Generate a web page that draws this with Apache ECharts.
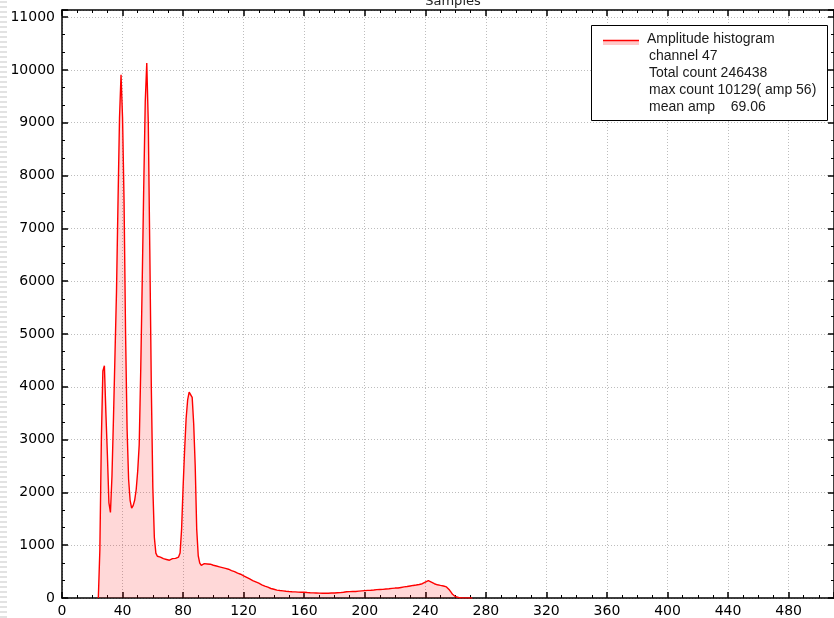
<!DOCTYPE html>
<html><head><meta charset="utf-8">
<script src="https://cdn.jsdelivr.net/npm/echarts@6/dist/echarts.min.js"></script>
<style>html,body{margin:0;padding:0;background:#fff}#c{width:834px;height:618px}</style>
</head><body><div id="c"></div>
<script>
const titleText = 'Samples';
const seriesName = 'Amplitude histogram';
const legendLines = ['channel 47', 'Total count 246438', 'max count 10129( amp 56)', 'mean amp\u00a0\u00a0\u00a0 69.06'];
const startChannel = 24;
const counts = [
  0, 900, 3000, 4300, 4400, 3500, 2700, 1800, 1620,            // 24-32
  2300, 3400, 4600, 5800, 7500, 9100, 9910, 9100, 7500, 5000, 3200, 2250, 1850, 1700, // 33-46
  1750, 1850, 2050, 2400, 2900, 4300, 6000, 7800, 9400, 10129, 9000, 6600, 4000, 2100, 1150, // 47-61
  850, 790, 770, 775, 750, 745, 760, 730, 700, 715, 740, 745, 740, 750, 760, 775, // 62-77
  850, 1300, 2100, 2800, 3400, 3750, 3900, 3927, 3800, 3300, 2500, 1300, 800, 660, // 78-91
  620, 640, 650, 635, 645, 630, 640, 625, 620, 615, 605, 610, 590, 585, 575, 580, // 92-107
  560, 550, 545, 530, 520, 505, 500, 480, 470, 455, 450, 430, 420, 405, 390, 375, // 108-123
  360, 345, 330, 320, 305, 295, 280, 265, 250, 240, 225, 215, 205, 190, 180, 172, // 124-139
  165, 160, 150, 148, 142, 140, 135, 130, 128, 125, 122, 120, 118, 120, 116, 115, // 140-155
  112, 114, 110, 108, 110, 106, 104, 103, 100, 102, 98, 97, 95, 96, 92, 94,       // 156-171
  90, 91, 89, 92, 90, 93, 94, 96, 95, 98, 100, 99, 102, 105, 108, 112,            // 172-187
  118, 115, 120, 117, 122, 125, 123, 128, 130, 132, 135, 138, 140, 142, 145, 143, // 188-203
  148, 150, 152, 155, 158, 160, 162, 165, 163, 168, 170, 172, 175, 178, 182, 185, // 204-219
  188, 192, 190, 196, 200, 205, 210, 212, 218, 222, 228, 232, 238, 242, 246, 250, // 220-235
  255, 262, 270, 285, 300, 318, 328, 318, 300, 285, 270, 258, 250, 245, 238, 235, // 236-251
  228, 222, 210, 185, 150, 110, 70, 40, 25, 15, 10, 7, 5, 4, 3, 2,                // 252-267
  2, 1, 1, 0                                                                      // 268-271
];
const xMin = 0, xMax = 510, xStep = 40;
const yMin = 0, yMax = 11135, yStep = 1000;

const data = counts.map((c, i) => [startChannel + i, c]);
const FONT = 'DejaVu Sans';
const LFONT = 'Liberation Sans';

function axis(kind, pos, labels, grid) {
  return {
    type: 'value', position: pos,
    min: kind === 'x' ? xMin : yMin, max: kind === 'x' ? xMax : yMax,
    interval: kind === 'x' ? xStep : yStep,
    axisLine: {show: true, onZero: false, lineStyle: {color: '#000', width: 1.5}},
    axisTick: {show: true, inside: true, length: 6, lineStyle: {color: '#000', width: 1.5}},
    minorTick: {show: true, splitNumber: kind === 'x' ? 4 : 3, length: 3, lineStyle: {color: '#000', width: 1}},
    axisLabel: {show: labels, color: '#000', fontFamily: FONT, fontSize: 14, margin: kind === 'x' ? 6 : 7,
      showMaxLabel: false, formatter: v => String(v)},
    splitLine: {show: grid, lineStyle: {color: '#bdbdbd', type: [1, 2], width: 1}},
    minorSplitLine: {show: false}
  };
}

const graphics = [];
for (let y = 1; y < 618; y += 5) {
  graphics.push({type: 'rect', z: 50, shape: {x: 0, y: y, width: 7, height: 2}, style: {fill: '#e2e2e2'}, silent: true});
}
graphics.push({type: 'rect', z: 100, shape: {x: 591.5, y: 25.5, width: 236, height: 95}, style: {fill: '#fff', stroke: '#000', lineWidth: 1}});
graphics.push({type: 'rect', z: 101, shape: {x: 603, y: 41, width: 36, height: 4}, style: {fill: '#ffc8c8'}});
graphics.push({type: 'line', z: 102, shape: {x1: 603, y1: 40.5, x2: 639, y2: 40.5}, style: {stroke: '#ff0000', lineWidth: 1.5}});
graphics.push({type: 'text', z: 102, x: 647, y: 39, style: {text: seriesName, fill: '#1a1a1a', font: '14px "' + LFONT + '"', verticalAlign: 'middle', align: 'left'}});
legendLines.forEach((t, i) => {
  graphics.push({type: 'text', z: 102, x: 649, y: 56 + i * 17.2, style: {text: t, fill: '#1a1a1a', font: '14px "' + LFONT + '"', verticalAlign: 'middle', align: 'left'}});
});

const chart = echarts.init(document.getElementById('c'), null, {renderer: 'canvas'});
chart.setOption({
  animation: false,
  backgroundColor: '#fff',
  title: {text: titleText, left: 448, top: -10, textAlign: 'center', textStyle: {fontFamily: FONT, fontSize: 13, fontWeight: 'normal', color: '#222'}},
  grid: {left: 62, right: 0, top: 10, bottom: 20, containLabel: false, outerBoundsMode: 'none'},
  xAxis: [axis('x', 'bottom', true, true), axis('x', 'top', false, false)],
  yAxis: [axis('y', 'left', true, true), axis('y', 'right', false, false)],
  series: [{
    name: seriesName, type: 'line', xAxisIndex: 0, yAxisIndex: 0,
    data: data, showSymbol: false, symbol: 'none',
    lineStyle: {color: '#ff0000', width: 1.4},
    itemStyle: {color: '#ff0000'},
    areaStyle: {color: 'rgba(255,0,0,0.22)'}
  }],
  graphic: graphics
});
</script></body></html>
